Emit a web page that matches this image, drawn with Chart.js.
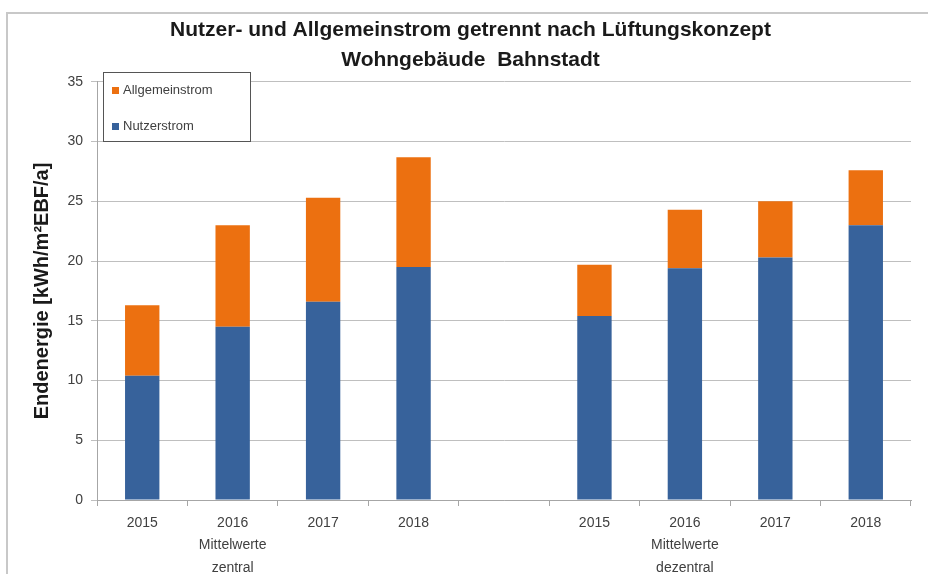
<!DOCTYPE html>
<html>
<head>
<meta charset="utf-8">
<script src="https://cdn.jsdelivr.net/npm/chart.js@4/dist/chart.umd.min.js"></script>
<style>
  html, body { margin: 0; padding: 0; background: #fff; }
  #wrap { position: relative; width: 928px; height: 574px; }
  #frame { position: absolute; left: 6px; top: 12px; width: 940px; height: 600px;
           border-left: 2px solid #c8c8c8; border-top: 2px solid #c8c8c8; box-sizing: border-box; }
  canvas { position: absolute; left: 0; top: 0; }
</style>
</head>
<body>
<div id="wrap">
  <div id="frame"></div>
  <canvas id="grafico" width="928" height="574"></canvas>
</div>
<script>
// Kategorien (leere Spalte trennt zentral / dezentral)
const kategorien = [
  ['2015'], ['2016', 'Mittelwerte', 'zentral'], ['2017'], ['2018'],
  [''],
  ['2015'], ['2016', 'Mittelwerte', 'dezentral'], ['2017'], ['2018']
];
const nutzerstrom    = [10.4, 14.5, 16.6, 19.5, null, 15.4, 19.4, 20.3, 23.0];
const allgemeinstrom = [5.9, 8.5, 8.7, 9.2, null, 4.3, 4.9, 4.7, 4.6];
const yTicks = [0, 5, 10, 15, 20, 25, 30, 35];

const blau = '#37629b';
const orange = '#ec7010';
const schrift = "'Liberation Sans', Arial, sans-serif";

// Legende als Kasten im Diagramm (wie im Original)
const legendeImPlot = {
  id: 'legendeImPlot',
  afterDraw(chart) {
    const ctx = chart.ctx;
    const x = 103, y = 72, w = 147, h = 69;
    ctx.save();
    ctx.fillStyle = '#fff';
    ctx.fillRect(x, y, w, h);
    ctx.strokeStyle = '#555';
    ctx.lineWidth = 1;
    ctx.strokeRect(x + 0.5, y + 0.5, w, h);
    const items = [chart.data.datasets[1], chart.data.datasets[0]];
    ctx.font = "13px " + schrift;
    ctx.textBaseline = 'middle';
    items.forEach((ds, i) => {
      const ly = y + 18 + i * 36;
      ctx.fillStyle = ds.backgroundColor;
      ctx.fillRect(x + 9, ly - 3, 7, 7);
      ctx.fillStyle = '#404040';
      ctx.fillText(ds.label, x + 20, ly);
    });
    ctx.restore();
  }
};

const ctx = document.getElementById('grafico').getContext('2d');
new Chart(ctx, {
  type: 'bar',
  data: {
    labels: kategorien,
    datasets: [
      { label: 'Nutzerstrom', data: nutzerstrom, backgroundColor: blau },
      { label: 'Allgemeinstrom', data: allgemeinstrom, backgroundColor: orange }
    ]
  },
  options: {
    responsive: false,
    animation: false,
    maintainAspectRatio: false,
    layout: { padding: { left: 30, right: 17, top: 0, bottom: 0 } },
    datasets: { bar: { categoryPercentage: 1, barPercentage: 0.38 } },
    plugins: {
      legend: { display: false },
      tooltip: { enabled: false },
      title: {
        display: true,
        text: ['Nutzer- und Allgemeinstrom getrennt nach Lüftungskonzept', 'Wohngebäude  Bahnstadt'],
        color: '#1a1a1a',
        font: { family: schrift, size: 21, weight: 'bold', lineHeight: 1.45 },
        padding: { top: 15, bottom: 6 }
      }
    },
    scales: {
      x: {
        stacked: true,
        offset: true,
        grid: { display: true, drawOnChartArea: false, offset: true, color: '#a6a6a6', tickLength: 6 },
        border: { color: '#a6a6a6' },
        ticks: {
          color: '#404040',
          font: { family: schrift, size: 14, lineHeight: 1.6 },
          maxRotation: 0,
          autoSkip: false,
          padding: 6
        },
        afterFit: (s) => { s.height = 74; }
      },
      y: {
        stacked: true,
        min: 0,
        max: 35,
        afterBuildTicks: (s) => { s.ticks = yTicks.map(v => ({ value: v })); },
        grid: { color: '#bfbfbf', tickLength: 6 },
        border: { color: '#a6a6a6' },
        ticks: {
          color: '#404040',
          font: { family: schrift, size: 14 },
          padding: 8
        },
        title: {
          display: true,
          text: 'Endenergie [kWh/m²EBF/a]',
          color: '#1a1a1a',
          font: { family: schrift, size: 20, weight: 'bold' },
          padding: { top: 0, bottom: 6 }
        },
        afterFit: (s) => { s.width = 67; }
      }
    }
  },
  plugins: [legendeImPlot]
});
</script>
</body>
</html>
